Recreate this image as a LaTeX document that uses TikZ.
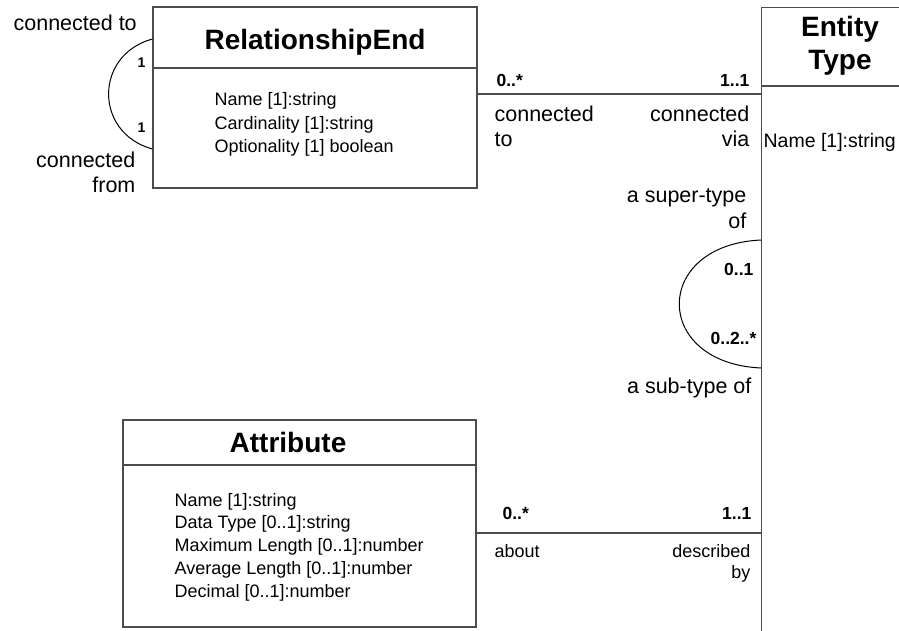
\documentclass[tikz,border=0pt]{standalone}
\usepackage{fontspec}
\setmainfont{Liberation Sans}
\usetikzlibrary{positioning,calc}

\begin{document}
\begin{tikzpicture}
  [
  x=1pt, y=-1pt, line width=1.2pt, draw=black!70,
  classbox/.style={rectangle, inner sep=0pt, draw=black!70, line width=1.2pt},
  classline/.style={draw=black!70, line width=1.2pt},
  classtitle/.style={inner sep=0pt, anchor=base, align=center, font=\fontsize{28}{33}\selectfont\bfseries},
  classbody/.style={inner sep=0pt, anchor=base west, align=left, font=\fontsize{18}{23.5}\selectfont},
  rolename/.style={inner sep=0pt, font=\fontsize{21.5}{25}\selectfont},
  smallrole/.style={inner sep=0pt, font=\fontsize{18}{21}\selectfont},
  mult/.style={inner sep=0pt, font=\fontsize{17.5}{18}\selectfont\bfseries},
  smallmult/.style={inner sep=0pt, font=\fontsize{14}{14}\selectfont\bfseries},
  assoc/.style={draw=black!70, line width=1.2pt},
  selfloop/.style={draw=black, line width=1pt},
  ]

  \useasboundingbox (0,0) rectangle (899,631);
  \clip (0,0) rectangle (899,631);

  % classes (base of a multi-line text is its last line)
  \node[classbox, minimum width=324pt, minimum height=181pt] (relend) at (315,97.5) {};
  \draw[classline] (relend.west |- 0,68) -- (relend.east |- 0,68);
  \node[classtitle] (relendT) at (315,50) {RelationshipEnd};
  \node[classbody] (relendB) at (214,153) {Name [1]:string\\Cardinality [1]:string\\Optionality [1] boolean};

  \node[classbox, anchor=north west, minimum width=200pt, minimum height=700pt] (entity) at (761,7) {};
  \draw[classline] (entity.west |- 0,86) -- (entity.east |- 0,86);
  \node[classtitle] (entityT) at (840,70) {Entity\\Type};
  \node[classbody, font=\fontsize{19.5}{23.5}\selectfont] (entityB) at (763,148) {Name [1]:string};

  \node[classbox, minimum width=353pt, minimum height=207pt] (attr) at (299.5,523.5) {};
  \draw[classline] (attr.west |- 0,465) -- (attr.east |- 0,465);
  \node[classtitle] (attrT) at (288,452) {Attribute};
  \node[classbody, font=\fontsize{18}{22.75}\selectfont] (attrB) at (174,597) {Name [1]:string\\Data Type [0..1]:string\\Maximum Length [0..1]:number\\Average Length [0..1]:number\\Decimal [0..1]:number};

  % associations
  \draw[assoc] (relend.east |- 0,94) -- (entity.west |- 0,94);
  \draw[assoc] (attr.east |- 0,533) -- (entity.west |- 0,533);
  \draw[selfloop] (relend.west |- 0,39) .. controls (94,55) and (94,133) .. (relend.west |- 0,149);
  \draw[selfloop] (entity.west |- 0,240) .. controls (652,245) and (652,363) .. (entity.west |- 0,368);

  % role names and multiplicities
  \node[rolename, anchor=base west] (reTo) at (13,31) {connected to};
  \node[rolename, anchor=base east, align=right] (reFrom) at (136,193) {connected\\from};
  \node[smallmult, anchor=base east] (reToM) at (146,68) {1};
  \node[smallmult, anchor=base east] (reFromM) at (146,133) {1};

  \node[mult, anchor=base west] (relM) at (496,87) {0..*};
  \node[mult, anchor=base east] (entM) at (750,87) {1..1};
  \node[rolename, anchor=base west, align=left] (relR) at (494,147) {connected\\to};
  \node[rolename, anchor=base east, align=right] (entR) at (750,147) {connected\\via};

  \node[rolename, anchor=base east, align=right] (supR) at (747,228) {a super-type\\of};
  \node[mult, anchor=base east] (supM) at (754,275) {0..1};
  \node[mult, anchor=base east] (subM) at (757,344) {0..2..*};
  \node[rolename, anchor=base east] (subR) at (752,393) {a sub-type of};

  \node[mult, anchor=base west] (attrM) at (502,519) {0..*};
  \node[mult, anchor=base east] (descM) at (752,519) {1..1};
  \node[smallrole, anchor=base west] (aboutR) at (494,557) {about};
  \node[smallrole, anchor=base east, align=right] (descR) at (751,578) {described\\by};

\end{tikzpicture}
\end{document}
